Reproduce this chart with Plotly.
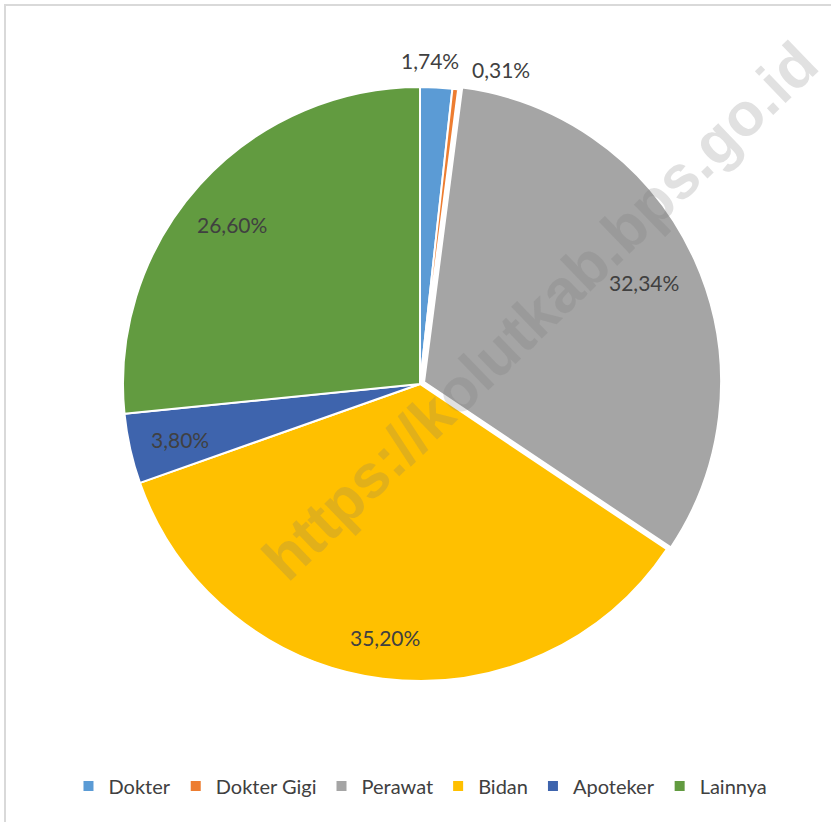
import math
import plotly.graph_objects as go

categories = ["Dokter", "Dokter Gigi", "Perawat", "Bidan", "Apoteker", "Lainnya"]
values = [1.74, 0.31, 32.34, 35.20, 3.80, 26.60]
colors = ["#5B9BD5", "#ED7D31", "#A5A5A5", "#FFC000", "#3E64AD", "#629B40"]
pulls = [0, 0, 0.015, 0, 0, 0]
# label placement (radius factor, x anchor, pixel shifts)
label_radius = [1.09, 1.09, 0.83, 0.86, 0.85, 0.83]
label_anchor = ["center", "left", "center", "center", "center", "center"]
label_shift = [(-8, 0), (12, 7), (0, 0), (-3, 0), (6, 0), (-5, 6)]

W, H = 831, 822
cx, cy, r = 420, 384, 297
rd = r * (1 + max(pulls))

fig = go.Figure(go.Pie(
    labels=categories,
    values=values,
    sort=False,
    direction="clockwise",
    rotation=0,
    pull=pulls,
    marker=dict(colors=colors, line=dict(color="white", width=2)),
    textinfo="none",
    hoverinfo="label+value",
    domain=dict(x=[(cx - rd) / W, (cx + rd) / W], y=[1 - (cy + rd) / H, 1 - (cy - rd) / H]),
))

total = sum(values)
annotations = []
cum = 0.0
for v, k, anc, (dx, dy) in zip(values, label_radius, label_anchor, label_shift):
    mid = (cum + v / 2) / total
    cum += v
    th = 2 * math.pi * mid
    px = cx + k * r * math.sin(th)
    py = cy - k * r * math.cos(th)
    annotations.append(dict(
        text=f"{v:.2f}%".replace(".", ","), xref="paper", yref="paper",
        x=px / W, y=1 - py / H, xanchor=anc, yanchor="middle",
        xshift=dx, yshift=-dy, showarrow=False,
        font=dict(family="Lato, sans-serif", size=21, color="#404040")))

annotations.append(dict(text="<b>https://kolutkab.bps.go.id</b>", xref="paper", yref="paper",
                        x=540 / W, y=1 - 311 / H, showarrow=False, textangle=-44,
                        font=dict(family="Liberation Sans, Arial, sans-serif", size=61,
                                  color="rgba(120,120,120,0.22)")))

fig.update_layout(
    width=W, height=H,
    margin=dict(l=0, r=0, t=0, b=0),
    paper_bgcolor="white",
    showlegend=True,
    legend=dict(orientation="h", x=0.506, xanchor="center", y=1 - 786 / H, yanchor="middle",
                font=dict(family="Lato, sans-serif", size=20, color="#404040"),
                itemclick=False, traceorder="normal"),
    shapes=[dict(type="rect", xref="paper", yref="paper", x0=5 / W, x1=1.02, y0=-0.02, y1=1 - 5 / H,
                 line=dict(color="#D9D9D9", width=2), fillcolor="rgba(0,0,0,0)", layer="below")],
    annotations=annotations,
)

fig.write_html("out.html", config={"displayModeBar": False},
               post_script="document.body.style.margin='0px';")
